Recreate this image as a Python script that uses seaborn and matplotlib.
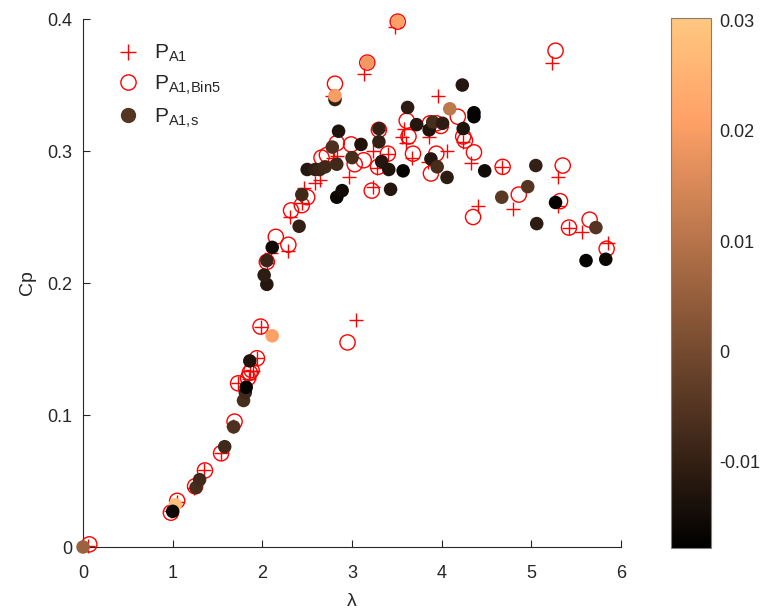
import matplotlib
matplotlib.use("Agg")
import numpy as np
import pandas as pd
import matplotlib.pyplot as plt
import seaborn as sns
from matplotlib.lines import Line2D

# Raw power coefficient samples: tip-speed ratio vs Cp
lam_raw = [0.06, 0.98, 1.05, 1.24, 1.35, 1.54, 1.67, 1.73, 1.85, 1.86, 1.90, 1.94,
           1.98, 2.05, 2.10, 2.29, 2.31, 2.44, 2.46, 2.59, 2.64, 2.79, 2.78, 2.83,
           2.97, 3.04, 3.13, 3.23, 3.28, 3.23, 3.30, 3.40, 3.48, 3.56, 3.60, 3.58,
           3.67, 3.85, 3.86, 3.96, 4.06, 4.24, 4.33, 4.40, 4.67, 4.79, 5.23, 5.30,
           5.30, 5.42, 5.57, 5.86]
cp_raw = [0.001, 0.027, 0.034, 0.045, 0.058, 0.071, 0.092, 0.124, 0.127, 0.133, 0.133, 0.143,
          0.167, 0.215, 0.223, 0.224, 0.250, 0.261, 0.272, 0.276, 0.278, 0.295, 0.342, 0.296,
          0.280, 0.172, 0.358, 0.300, 0.287, 0.273, 0.316, 0.298, 0.394, 0.311, 0.306, 0.317,
          0.295, 0.292, 0.311, 0.342, 0.300, 0.307, 0.291, 0.258, 0.288, 0.256, 0.367, 0.280,
          0.258, 0.242, 0.239, 0.230]

# Bin-averaged (5 bins) samples
lam_bin = [0.07, 0.98, 1.05, 1.25, 1.36, 1.54, 1.69, 1.73, 1.84, 1.88, 1.86, 1.94,
           1.98, 2.05, 2.15, 2.29, 2.32, 2.44, 2.50, 2.66, 2.72, 2.81, 2.83, 2.99,
           3.03, 3.13, 3.17, 3.22, 3.29, 3.30, 3.40, 3.51, 3.61, 3.63, 3.68, 3.87,
           3.94, 3.99, 3.88, 3.94, 4.18, 4.24, 4.26, 4.36, 4.35, 4.68, 4.86, 5.27,
           5.35, 5.32, 5.42, 5.65, 5.84, 2.95]
cp_bin = [0.002, 0.026, 0.035, 0.046, 0.058, 0.071, 0.095, 0.124, 0.128, 0.134, 0.132, 0.143,
          0.167, 0.216, 0.235, 0.229, 0.255, 0.259, 0.265, 0.295, 0.297, 0.351, 0.306, 0.305,
          0.290, 0.293, 0.367, 0.270, 0.288, 0.316, 0.298, 0.398, 0.323, 0.311, 0.298, 0.321,
          0.321, 0.319, 0.283, 0.298, 0.326, 0.311, 0.308, 0.299, 0.250, 0.288, 0.267, 0.376,
          0.289, 0.262, 0.242, 0.248, 0.226, 0.155]

# Smoothed samples with their colour variable
lam_s = [0.00, 1.03, 1.00, 1.26, 1.30, 1.58, 1.68, 1.79, 1.81, 1.82, 1.86, 2.11,
         2.05, 2.02, 2.05, 2.11, 2.41, 2.44, 2.50, 2.59, 2.64, 2.70, 2.78, 2.85,
         2.83, 2.83, 2.89, 2.81, 2.81, 3.00, 3.10, 3.17, 3.30, 3.30, 3.33, 3.41,
         3.43, 3.51, 3.57, 3.62, 3.72, 3.86, 3.90, 4.01, 3.88, 3.95, 4.06, 4.09,
         4.23, 4.24, 4.36, 4.36, 4.48, 4.67, 4.96, 5.05, 5.06, 5.27, 5.72, 5.61, 5.83]
cp_s = [0.000, 0.032, 0.027, 0.045, 0.051, 0.076, 0.091, 0.111, 0.117, 0.121, 0.141, 0.160,
        0.199, 0.206, 0.217, 0.227, 0.243, 0.267, 0.286, 0.286, 0.286, 0.288, 0.303, 0.315,
        0.290, 0.265, 0.270, 0.339, 0.342, 0.295, 0.305, 0.367, 0.317, 0.307, 0.292, 0.286,
        0.271, 0.398, 0.285, 0.333, 0.320, 0.316, 0.322, 0.321, 0.294, 0.288, 0.280, 0.332,
        0.350, 0.317, 0.329, 0.326, 0.285, 0.265, 0.273, 0.289, 0.245, 0.261, 0.242, 0.217, 0.218]
c_s = [0.006, 0.028, -0.016, -0.007, -0.008, -0.008, -0.006, -0.007, -0.008, -0.017, -0.013, 0.021,
       -0.012, -0.011, -0.009, -0.015, -0.010, -0.008, -0.012, -0.010, -0.009, -0.008, -0.006, -0.013,
       -0.008, -0.016, -0.015, -0.010, 0.020, -0.007, -0.013, 0.019, -0.010, -0.010, -0.012, -0.013,
       -0.012, 0.021, -0.017, -0.011, -0.012, -0.013, -0.007, -0.011, -0.012, -0.007, -0.011, 0.011,
       -0.012, -0.013, -0.017, -0.017, -0.015, -0.004, -0.005, -0.010, -0.011, -0.017, -0.005, -0.017, -0.016]

c_min, c_max = -0.0178, 0.0302
x_ticks = [0, 1, 2, 3, 4, 5, 6]
y_ticks = [0, 0.1, 0.2, 0.3, 0.4]
cbar_ticks = [-0.01, 0, 0.01, 0.02, 0.03]

df_raw = pd.DataFrame({"lam": lam_raw, "cp": cp_raw})
df_bin = pd.DataFrame({"lam": lam_bin, "cp": cp_bin})
df_s = pd.DataFrame({"lam": lam_s, "cp": cp_s, "c": c_s})

sns.set_theme(style="white")
plt.rcParams["font.family"] = ["Liberation Sans", "DejaVu Sans"]
plt.rcParams["mathtext.fontset"] = "custom"
plt.rcParams["mathtext.rm"] = "Liberation Sans"
plt.rcParams["mathtext.it"] = "Liberation Sans"
plt.rcParams["axes.unicode_minus"] = False

fig = plt.figure(figsize=(7.84, 6.12), dpi=100)
ax = fig.add_axes([0.1059, 0.1062, 0.6862, 0.8627])
cax = fig.add_axes([0.8559, 0.1046, 0.0510, 0.866])

sns.scatterplot(data=df_raw, x="lam", y="cp", marker="+", color="red",
                s=110, linewidth=1.0, ax=ax, zorder=2, legend=False)
sns.scatterplot(data=df_bin, x="lam", y="cp", marker="o", facecolor="none",
                edgecolor="red", s=120, linewidth=1.0, ax=ax, zorder=3, legend=False)
sns.scatterplot(data=df_s, x="lam", y="cp", hue="c", palette="copper",
                hue_norm=(c_min, c_max), s=95, linewidth=0, ax=ax, zorder=4, legend=False)
for coll in ax.collections:
    coll.set_clip_on(False)

ax.set_xlim(0, 6)
ax.set_ylim(0, 0.4)
ax.set_xticks(x_ticks)
ax.set_yticks(y_ticks)
ax.set_yticklabels(["0", "0.1", "0.2", "0.3", "0.4"])
ax.set_xlabel("λ", fontsize=14, labelpad=8)
ax.set_ylabel("Cp", fontsize=14, labelpad=8)
ax.tick_params(direction="in", length=5, width=0.8, labelsize=13, colors="#262626",
               bottom=True, left=True)
ax.tick_params(axis="x", pad=13)
ax.tick_params(axis="y", pad=8)
for side in ["top", "right"]:
    ax.spines[side].set_visible(False)
for side in ["left", "bottom"]:
    ax.spines[side].set_color("#262626")
    ax.spines[side].set_linewidth(0.8)

legend_color = plt.get_cmap("copper")((-0.005 - c_min) / (c_max - c_min))
handles = [
    Line2D([], [], marker="+", color="red", linestyle="none", markersize=11, markeredgewidth=1.0),
    Line2D([], [], marker="o", markerfacecolor="none", markeredgecolor="red", linestyle="none",
           markersize=11, markeredgewidth=1.0),
    Line2D([], [], marker="o", color=legend_color, linestyle="none", markersize=10),
]
labels = [r"$\mathrm{P_{A1}}$", r"$\mathrm{P_{A1{,}Bin5}}$", r"$\mathrm{P_{A1{,}s}}$"]
ax.legend(handles, labels, loc="upper left", bbox_to_anchor=(0.02, 0.99), frameon=False,
          fontsize=15, handlelength=1.5, handletextpad=0.5, labelspacing=0.45)

sm = plt.cm.ScalarMappable(cmap="copper", norm=plt.Normalize(c_min, c_max))
cb = fig.colorbar(sm, cax=cax, ticks=cbar_ticks)
cb.ax.set_yticklabels(["-0.01", "0", "0.01", "0.02", "0.03"])
cb.ax.tick_params(direction="in", length=4, width=0.8, labelsize=13, colors="#262626",
                  left=True, right=True, pad=6)
cb.outline.set_edgecolor("#7f7f7f")
cb.outline.set_linewidth(0.8)

fig.savefig("out.png", dpi=100)
